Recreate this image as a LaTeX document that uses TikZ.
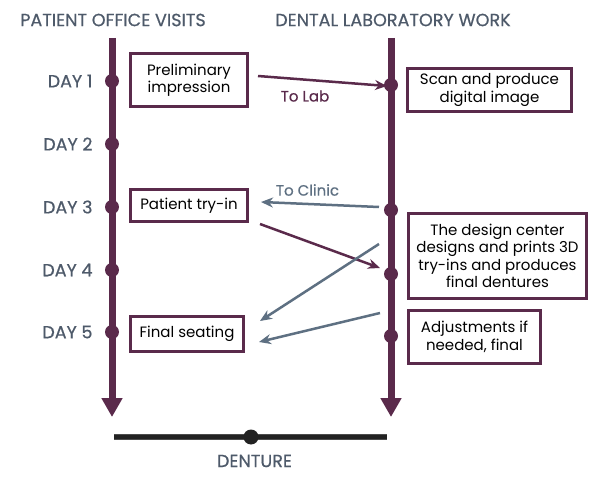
\documentclass[tikz,border=0pt]{standalone}
\usepackage{fontspec}
\setmainfont{Poppins}
\newfontfamily\medfont[FakeBold=0.6]{Poppins}
\usetikzlibrary{arrows.meta}
\definecolor{plum}{HTML}{5A2A4B}
\definecolor{slate}{HTML}{5E7082}
\definecolor{lbl}{HTML}{4E5A6A}
\definecolor{ink}{HTML}{222222}
\begin{document}
\begin{tikzpicture}[x=1pt,y=-1pt,
  box/.style={draw=plum,line width=3pt,fill=white,inner sep=0pt,align=center,
    font=\fontsize{15}{17.5}\selectfont,text=black},
  dayl/.style={anchor=east,text=lbl,font=\medfont\fontsize{17.5}{19}\selectfont},
  head/.style={text=lbl,font=\medfont\fontsize{17.6}{19}\selectfont},
  dot/.style={circle,fill=plum,minimum size=14pt,inner sep=0pt},
  bar/.style={draw=plum,line width=7pt,-{Triangle[width=20pt,length=19pt]}},
  slatearrow/.style={draw=slate,line width=2.5pt,-{Stealth[length=12pt,width=10pt]}},
  plumarrow/.style={draw=plum,line width=2.5pt,-{Stealth[length=12pt,width=10pt]}}]
\useasboundingbox (0,0) rectangle (600,481);
\fill[white] (0,0) rectangle (600,481);
% headers
\node[head] (h1) at (113,20) {PATIENT OFFICE VISITS};
\node[head] (h2) at (393,20) {DENTAL LABORATORY WORK};
% bars
\coordinate (lt) at (112,38);
\coordinate (lb) at (112,417);
\coordinate (rt) at (391,38);
\coordinate (rb) at (391,417);
\draw[bar] (lt) -- (lb);
\draw[bar] (rt) -- (rb);
% left dots
\node[dot] (l1) at (112,81) {};
\node[dot] (l2) at (112,144) {};
\node[dot] (l3) at (112,207) {};
\node[dot] (l4) at (112,270) {};
\node[dot] (l5) at (112,332) {};
% right dots
\node[dot] (r1) at (391,85) {};
\node[dot] (r3) at (391,210) {};
\node[dot] (r4) at (391,274) {};
\node[dot] (r5) at (391,336) {};
% day labels
\node[dayl] (d1) at (96,81) {DAY 1};
\node[dayl] (d2) at (96,144) {DAY 2};
\node[dayl] (d3) at (96,207) {DAY 3};
\node[dayl] (d4) at (96,270) {DAY 4};
\node[dayl] (d5) at (96,332) {DAY 5};
% boxes
\node[box,minimum width=117pt,minimum height=53pt] (prelim) at (189,80) {Preliminary\\impression};
\node[box,minimum width=164pt,minimum height=43pt] (scan) at (489.5,90) {Scan and produce\\digital image};
\node[box,minimum width=117pt,minimum height=32pt] (tryin) at (189,205.5) {Patient try-in};
\node[box,minimum width=113pt,minimum height=35pt] (seat) at (187,334) {Final seating};
\node[box,minimum width=178pt,minimum height=85pt] (design) at (497.5,256) {The design center\\designs and prints 3D\\try-ins and produces\\final dentures};
\node[box,minimum width=132pt,minimum height=53pt] (adj) at (474.5,337) {Adjustments if\\needed, final};
% connector end points
\coordinate (a1s) at (258,76);
\coordinate (a1e) at (387,86);
\coordinate (a2s) at (379,207);
\coordinate (a2e) at (261,202);
\coordinate (a3s) at (260,224);
\coordinate (a3e) at (380,268);
\coordinate (a4s) at (379,244);
\coordinate (a4e) at (260,321);
\coordinate (a5s) at (380,313);
\coordinate (a5e) at (259,342);
\draw[plumarrow] (a1s) -- (a1e);
\draw[slatearrow] (a2s) -- (a2e);
\draw[plumarrow] (a3s) -- (a3e);
\draw[slatearrow] (a4s) -- (a4e);
\draw[slatearrow] (a5s) -- (a5e);
\node[text=plum,font=\medfont\fontsize{15}{17}\selectfont] (tolab) at (305,96) {To Lab};
\node[text=slate,font=\medfont\fontsize{15}{17}\selectfont] (toclinic) at (307.5,190) {To Clinic};
% denture bar
\coordinate (bl) at (114,437);
\coordinate (br) at (387,437);
\draw[draw=black!70,line width=6.5pt] (bl) -- (br);
\draw[draw=ink,line width=4.5pt] (bl) -- (br);
\node[circle,fill=ink,minimum size=15pt,inner sep=0pt] (dd) at (251,437) {};
\node[head] (dl) at (254.5,461) {DENTURE};
\end{tikzpicture}
\end{document}
